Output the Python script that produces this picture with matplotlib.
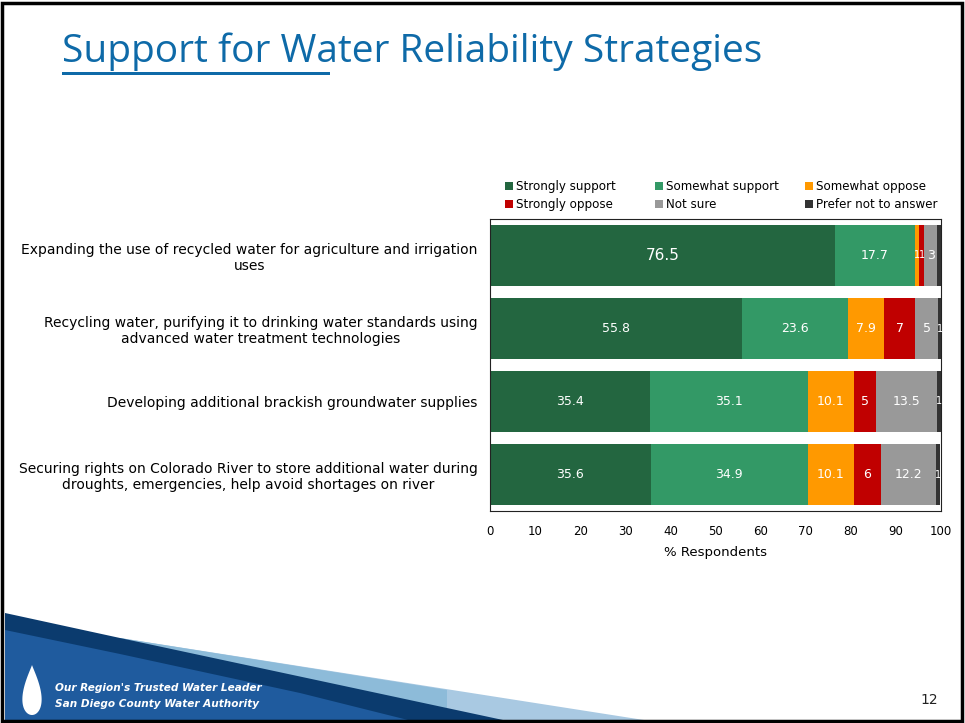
import numpy as np
import matplotlib
matplotlib.use("Agg")
import matplotlib.pyplot as plt
from matplotlib import font_manager
from matplotlib.patches import Polygon, Rectangle

strategies = [
    "Expanding the use of recycled water for agriculture and irrigation\nuses",
    "Recycling water, purifying it to drinking water standards using\nadvanced water treatment technologies",
    "Developing additional brackish groundwater supplies",
    "Securing rights on Colorado River to store additional water during\ndroughts, emergencies, help avoid shortages on river",
]
responses = ["Strongly support", "Somewhat support", "Somewhat oppose",
             "Strongly oppose", "Not sure", "Prefer not to answer"]
strongly_support = [76.5, 55.8, 35.4, 35.6]
somewhat_support = [17.7, 23.6, 35.1, 34.9]
somewhat_oppose = [1, 7.9, 10.1, 10.1]
strongly_oppose = [1, 7, 5, 6]
not_sure = [3, 5, 13.5, 12.2]
prefer_not = [0.8, 1, 1, 1]
x_ticks = [0, 10, 20, 30, 40, 50, 60, 70, 80, 90, 100]

colors = ["#236640", "#339966", "#ff9900", "#c00000", "#999999", "#333333"]

names = {f.name for f in font_manager.fontManager.ttflist}
title_font = next((f for f in ["Liberation Sans Narrow", "DejaVu Sans Condensed", "Open Sans", "DejaVu Sans"] if f in names), "DejaVu Sans")
plt.rcParams["font.family"] = ["DejaVu Sans"]

W, H = 965, 723
fig = plt.figure(figsize=(W / 100, H / 100), dpi=100)


def px(x, y):
    return (x / W, 1 - y / H)


# bandeau bleu en bas à gauche
fig.patches.append(Polygon([px(120, 638), px(663, 723), px(447, 723)],
                           closed=True, transform=fig.transFigure, facecolor="#a9c9e2", edgecolor="none"))
fig.patches.append(Polygon([px(120, 638), px(447, 690), px(447, 723), px(5, 723)],
                           closed=True, transform=fig.transFigure, facecolor="#8dbbd9", edgecolor="none"))
fig.patches.append(Polygon([px(5, 613), px(120, 638), px(517, 723), px(5, 723)],
                           closed=True, transform=fig.transFigure, facecolor="#0b3b6e", edgecolor="none"))
fig.patches.append(Polygon([px(5, 630), px(120, 654), px(300, 693), px(420, 723), px(5, 723)],
                           closed=True, transform=fig.transFigure, facecolor="#1f5b9e", edgecolor="none"))

# goutte d'eau
t = np.linspace(0, 2 * np.pi, 120)
dx = 13 * np.sin(t) * np.sin(t / 2) ** 1.2
dy = 25 * np.cos(t)
drop = [px(32 + a, 690 - b) for a, b in zip(dx, dy)]
fig.patches.append(Polygon(drop, closed=True, transform=fig.transFigure, facecolor="white", edgecolor="none"))
fig.text(*px(55, 688), "Our Region's Trusted Water Leader", fontsize=7.6, fontweight="bold",
         style="italic", color="white", ha="left", va="center")
fig.text(*px(55, 704), "San Diego County Water Authority", fontsize=7.6, fontweight="bold",
         style="italic", color="white", ha="left", va="center")

# cadre de la diapo
fig.patches.append(Rectangle(px(2, 721), 960 / W, 718 / H, transform=fig.transFigure,
                             facecolor="none", edgecolor="black", linewidth=2.5))

# titre
fig.text(*px(62, 52), "Support for Water Reliability Strategies", fontsize=28,
         family=title_font, color="#0e6aa8", ha="left", va="center")
fig.patches.append(Rectangle(px(62, 75), 268 / W, 3 / H, transform=fig.transFigure,
                             facecolor="#0e6aa8", edgecolor="none"))
fig.text(*px(938, 700), "12", fontsize=10, color="#222222", ha="right", va="center")

# graphique
ax = fig.add_axes([490 / W, 1 - 511 / H, 451 / W, 292 / H])
series = [strongly_support, somewhat_support, somewhat_oppose,
          strongly_oppose, not_sure, prefer_not]
y = np.arange(len(strategies))
left = np.zeros(len(strategies))
for vals, lab, col in zip(series, responses, colors):
    ax.barh(y, vals, left=left, height=0.84, color=col, label=lab)
    for yi, v, l0 in zip(y, vals, left):
        if v >= 1:
            fs = 11 if v > 60 else (7 if v < 2 else 9)
            ax.text(l0 + v / 2, yi, f"{v:g}", ha="center", va="center", color="white",
                    fontsize=fs)
    left = left + np.array(vals)

ax.set_ylim(len(strategies) - 0.5, -0.5)
ax.set_xlim(0, 100)
ax.set_xticks(x_ticks)
ax.set_yticks(y)
ax.set_yticklabels(strategies, multialignment="center")
ax.tick_params(axis="x", length=0, labelsize=8.5, pad=10)
ax.tick_params(axis="y", length=0, labelsize=10, pad=9)
ax.set_xlabel("% Respondents", fontsize=9.5, labelpad=6)
for s in ax.spines.values():
    s.set_linewidth(0.8)
    s.set_color("#222222")

# légende : 3 colonnes régulièrement espacées, remplies ligne par ligne
h, l = ax.get_legend_handles_labels()
for c, x0 in enumerate([505, 655, 805]):
    leg = ax.legend([h[c], h[c + 3]], [l[c], l[c + 3]], loc="upper left",
                    bbox_to_anchor=px(x0, 180), bbox_transform=fig.transFigure,
                    frameon=False, fontsize=8.6, handlelength=0.7, handleheight=0.7,
                    handletextpad=0.25, labelspacing=0.45, borderpad=0, borderaxespad=0)
    if c < 2:
        ax.add_artist(leg)

fig.savefig("out.png", dpi=100)
